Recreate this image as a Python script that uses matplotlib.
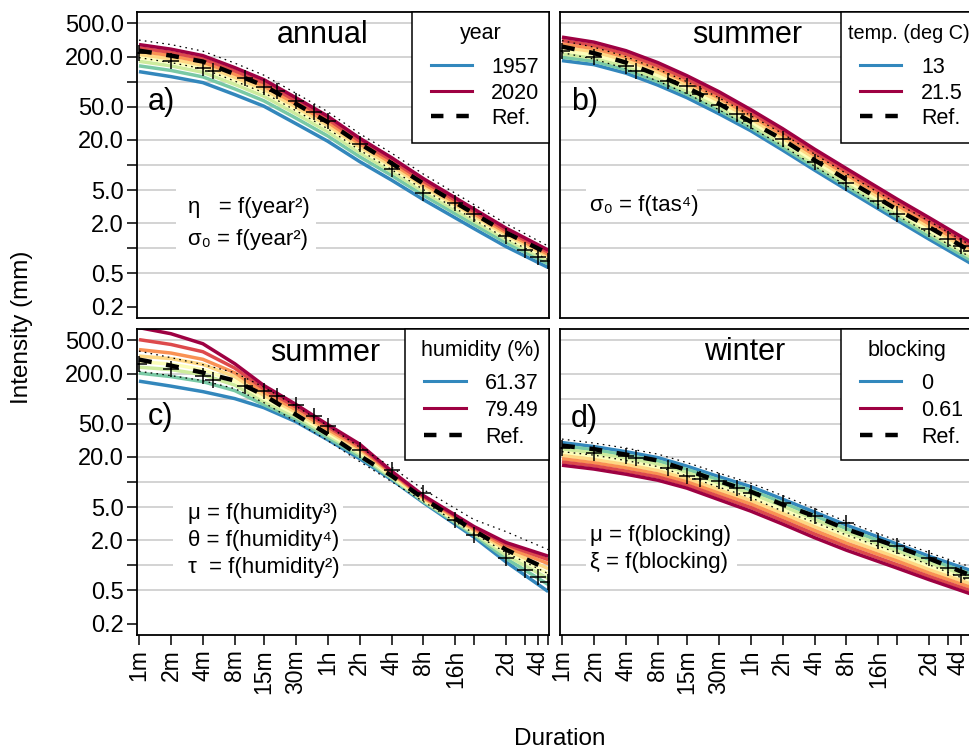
import matplotlib
matplotlib.use("Agg")
import matplotlib.pyplot as plt
from matplotlib.patches import Rectangle
from matplotlib.lines import Line2D
from matplotlib.ticker import NullLocator
from matplotlib.transforms import ScaledTranslation

plt.rcParams['font.family'] = ['Liberation Sans', 'DejaVu Sans']

# ---------------- data ----------------
durations = [1, 2, 4, 8, 15, 30, 60, 120, 240, 480, 1440, 2880, 7200]  # minutes
obs_durations = [1, 2, 4, 5, 10, 15, 20, 30, 45, 60, 120, 240, 480, 960,
                 1440, 2880, 4320, 5760, 7200]

tick_minutes = [1, 2, 4, 8, 15, 30, 60, 120, 240, 480, 960, 1440, 2880, 4320, 5760, 7200]
tick_labels = ['1m', '2m', '4m', '8m', '15m', '30m', '1h', '2h', '4h', '8h', '16h',
               '', '2d', '', '4d', '']
ytick_values = [500, 200, 100, 50, 20, 10, 5, 2, 1, 0.5, 0.2]
ytick_labels = ['500.0', '200.0', '', '50.0', '20.0', '', '5.0', '2.0', '', '0.5', '0.2']
grid_values = [500, 200, 100, 50, 20, 10, 5, 2, 1, 0.5]

# panel a (annual, year): curves from 2020 (dark red) to 1957 (blue)
a_curves = [
    [278, 245, 205, 147, 105.7, 64.3, 38.6, 21.0, 12.26, 6.86, 2.96, 1.75, 0.954],
    [254, 224, 187.5, 134.4, 96.8, 59.0, 35.5, 19.4, 11.38, 6.40, 2.77, 1.645, 0.901],
    [232.5, 205, 171.5, 123, 88.5, 54.2, 32.7, 18.0, 10.56, 5.97, 2.60, 1.549, 0.849],
    [212.7, 187.4, 156.8, 112.5, 81.0, 49.8, 30.1, 16.6, 9.81, 5.57, 2.44, 1.456, 0.801],
    [194.5, 171.4, 143.4, 102.8, 74.1, 45.7, 27.7, 15.4, 9.10, 5.19, 2.29, 1.369, 0.757],
    [175.3, 154.5, 129.3, 92.7, 66.8, 41.3, 25.1, 14.1, 8.34, 4.79, 2.12, 1.276, 0.707],
    [154.5, 136.1, 113.9, 81.7, 58.9, 36.6, 22.3, 12.6, 7.50, 4.34, 1.93, 1.169, 0.652],
    [131.8, 114.8, 97.3, 69.8, 50.8, 31.4, 19.3, 11.0, 6.59, 3.84, 1.725, 1.051, 0.589],
]
a_ref = [235, 205, 174, 123, 89.6, 54.5, 32.7, 18.1, 10.5, 5.98, 2.61, 1.545, 0.866]
a_upper = [314.5, 278, 232, 166.6, 119.6, 72.8, 43.6, 23.8, 13.9, 7.77, 3.35, 1.98, 1.065]
a_lower = [194, 169, 143, 101.4, 73.8, 44.9, 27.3, 15.1, 8.81, 5.07, 2.22, 1.31, 0.733]
a_obs = [219.6, 176, 145, 135, 110, 87.1, 78.0, 59.2, 43.6, 33.6, 18.1, 9.06, 4.60,
         3.47, 2.61, 1.42, 0.967, 0.797, 0.713]

# panel b (summer, temperature): 21.5 (dark red) to 13 (blue)
b_curves = [
    [341.6, 297.5, 235, 169, 118, 75.9, 46.2, 27.3, 15.5, 9.06, 3.90, 2.34, 1.174],
    [311.4, 272.5, 215.2, 154.8, 108.2, 69.6, 42.5, 25.1, 14.27, 8.34, 3.59, 2.15, 1.081],
    [283.9, 249.5, 197.1, 141.7, 99.3, 64.0, 39.2, 23.0, 13.14, 7.68, 3.31, 1.97, 0.995],
    [258.8, 228.5, 180.5, 129.8, 91.2, 58.7, 36.0, 21.1, 12.09, 7.07, 3.04, 1.81, 0.916],
    [235.9, 209.3, 165.3, 118.9, 83.7, 53.9, 33.2, 19.4, 11.13, 6.51, 2.80, 1.66, 0.843],
    [215.0, 191.6, 151.3, 108.8, 76.8, 49.5, 30.5, 17.8, 10.25, 5.99, 2.58, 1.53, 0.776],
    [196.1, 175.5, 138.7, 99.7, 70.6, 45.4, 28.1, 16.4, 9.43, 5.51, 2.37, 1.40, 0.715],
    [178.6, 159.9, 126.4, 90.8, 64.3, 41.3, 25.8, 15.1, 8.69, 5.07, 2.18, 1.29, 0.656],
]
b_ref = [262.8, 219.6, 169, 119.6, 84.7, 54.5, 33.1, 20.2, 11.45, 6.68, 2.92, 1.80, 0.916]
b_upper = [310, 259, 199.4, 141, 100, 64.3, 39.1, 23.8, 13.5, 7.88, 3.44, 2.13, 1.08]
b_lower = [222.7, 186.2, 143, 101.4, 71.8, 46.2, 28.1, 17.1, 9.70, 5.66, 2.47, 1.524, 0.775]
b_obs = [235, 195.6, 155.5, 135, 102.8, 89.6, 71.2, 53.0, 41.0, 34.1, 20.6, 10.8, 6.03,
         3.74, 2.59, 1.71, 1.30, 1.08, 0.941]

# panel c (summer, humidity): 79.49 (dark red) to 61.37 (blue)
c_curves = [
    [710, 600, 455, 262, 144, 85.5, 48.8, 28.5, 13.5, 6.87, 2.92, 1.88, 1.29],
    [509.7, 446, 365, 232, 131, 79.5, 46.2, 26.9, 13.1, 6.68, 2.84, 1.78, 1.17],
    [386.8, 352, 296, 204, 119.5, 74.0, 43.1, 25.5, 12.8, 6.50, 2.72, 1.656, 1.05],
    [323.2, 301.6, 257, 183, 109.5, 69.0, 40.8, 24.1, 12.26, 6.32, 2.61, 1.545, 0.914],
    [277.6, 259.2, 222.7, 162.0, 100.5, 65.2, 38.6, 22.8, 11.9, 6.15, 2.50, 1.44, 0.796],
    [238.5, 222.7, 194.0, 145.1, 92.05, 60.8, 36.5, 21.6, 11.4, 5.98, 2.41, 1.33, 0.694],
    [202.2, 183.6, 159.8, 124.7, 84.7, 56.8, 34.1, 20.2, 11.1, 5.82, 2.31, 1.21, 0.589],
    [162.0, 141.1, 121.3, 100, 78.0, 53.0, 32.2, 19.1, 10.7, 5.66, 2.18, 1.10, 0.485],
]
c_ref = [293.4, 248.6, 205, 164.3, 110.2, 64.3, 37.5, 20.7, 11.9, 6.32, 2.61, 1.545, 0.890]
c_upper = [371.1, 310.0, 255.6, 205, 137.3, 81.3, 47.4, 26.2, 15.1, 8.11, 3.54, 2.54, 1.545]
c_lower = [212.5, 188.7, 164.3, 131.7, 89.6, 53.0, 31.4, 17.6, 10.1, 5.82, 2.41, 1.42, 0.796]
c_obs = [262.8, 228.9, 186.1, 169.0, 140.4, 122.3, 107.2, 84.7, 61.3, 46.5, 24.5, 14.1,
         7.46, 3.54, 2.34, 1.24, 0.891, 0.733, 0.639]

# panel d (winter, blocking): 0.61 (dark red) to 0 (blue)
d_curves = [
    [15.9, 14.3, 12.4, 10.5, 8.45, 6.15, 4.48, 3.13, 2.15, 1.52, 0.928, 0.675, 0.453],
    [17.4, 15.6, 13.5, 11.5, 9.21, 6.73, 4.95, 3.45, 2.38, 1.68, 1.02, 0.738, 0.494],
    [19.0, 17.0, 14.8, 12.5, 10.05, 7.37, 5.45, 3.81, 2.63, 1.85, 1.13, 0.810, 0.543],
    [20.8, 18.6, 16.2, 13.7, 10.96, 8.07, 6.00, 4.20, 2.91, 2.05, 1.24, 0.889, 0.595],
    [22.7, 20.4, 17.7, 15.0, 11.9, 8.84, 6.60, 4.64, 3.22, 2.26, 1.36, 0.976, 0.654],
    [24.8, 22.3, 19.3, 16.4, 13.0, 9.68, 7.27, 5.12, 3.56, 2.49, 1.49, 1.07, 0.718],
    [27.2, 24.3, 21.1, 17.9, 14.2, 10.6, 8.00, 5.65, 3.94, 2.75, 1.64, 1.175, 0.788],
    [29.7, 26.6, 23.1, 19.6, 15.5, 11.6, 8.81, 6.23, 4.36, 3.04, 1.80, 1.29, 0.865],
]
d_ref = [27.3, 24.8, 21.3, 18.1, 13.9, 10.25, 7.67, 5.36, 3.90, 2.72, 1.68, 1.21, 0.754]
d_upper = [32.7, 29.3, 25.5, 21.6, 17.1, 12.8, 9.70, 6.87, 4.80, 3.35, 1.98, 1.42, 0.954]
d_lower = [23.1, 21.0, 18.1, 15.3, 11.8, 8.69, 6.50, 4.48, 3.30, 2.31, 1.42, 1.02, 0.638]
d_obs = [25.6, 22.3, 20.3, 19.5, 14.8, 11.7, 10.9, 10.2, 8.50, 7.40, 5.61, 3.88, 3.23,
         1.95, 1.69, 1.23, 0.933, 0.773, 0.713]

# ---------------- layout ----------------
W, H = 969, 752
fig = plt.figure(figsize=(W / 100, H / 100), dpi=100)
fig.patch.set_facecolor('white')


def fx(x):
    return x / W


def fy(y):
    return 1 - y / H


cmap = matplotlib.colormaps['Spectral']
curve_colors = [cmap(0.9 * k / 7) for k in range(8)]
LOW_COLOR = '#3288BD'
HIGH_COLOR = '#9E0142'

PW, PH = 412, 306
xlim = (0.958, 7320)
ylim = (0.1463, 683.5)

panels = [
    dict(box=(137, 12), curves=a_curves, ref=a_ref, upper=a_upper, lower=a_lower, obs=a_obs,
         title='annual', title_xy=(323, 43.3), letter='a)', letter_xy=(148, 110),
         leg_box=(412, 12, 549, 143), leg_title='year', leg_title_xy=(481, 39),
         leg_title_ha='center', leg_title_size=15.5,
         leg_labels=['1957', '2020', 'Ref.'], handle_x=(431, 472), label_x=491,
         rows_y=[72.7, 98.7, 124.3],
         notes=[('η   = f(year²)', 188, 213.5), ('σ₀ = f(year²)', 188, 244.5)],
         note_box=(176, 181, 316, 262), left=True, bottom=False, right=False),
    dict(box=(560, 12), curves=b_curves, ref=b_ref, upper=b_upper, lower=b_lower, obs=b_obs,
         title='summer', title_xy=(747, 43.3), letter='b)', letter_xy=(571, 110),
         leg_box=(841, 12, 1000, 143), leg_title='temp. (deg C)', leg_title_xy=(848, 39),
         leg_title_ha='left', leg_title_size=14.3,
         leg_labels=['13', '21.5', 'Ref.'], handle_x=(860, 901), label_x=921,
         rows_y=[72.7, 98.7, 124.3],
         notes=[('σ₀ = f(tas⁴)', 590, 210.7)],
         note_box=(586, 181, 697, 221), left=False, bottom=False, right=True),
    dict(box=(137, 329), curves=c_curves, ref=c_ref, upper=c_upper, lower=c_lower, obs=c_obs,
         title='summer', title_xy=(325, 360.7), letter='c)', letter_xy=(148, 425),
         leg_box=(405, 329, 549, 460), leg_title='humidity (%)', leg_title_xy=(480.5, 356),
         leg_title_ha='center', leg_title_size=15.5,
         leg_labels=['61.37', '79.49', 'Ref.'], handle_x=(424, 466), label_x=485,
         rows_y=[389.3, 416, 442.7],
         notes=[('μ = f(humidity³)', 188, 519.3), ('θ = f(humidity⁴)', 188, 546),
                ('τ  = f(humidity²)', 188, 573.3)],
         note_box=(173, 490, 343, 581), left=True, bottom=True, right=False),
    dict(box=(560, 329), curves=d_curves, ref=d_ref, upper=d_upper, lower=d_lower, obs=d_obs,
         title='winter', title_xy=(745, 360), letter='d)', letter_xy=(571, 426.7),
         leg_box=(841, 329, 1000, 460), leg_title='blocking', leg_title_xy=(906.7, 356),
         leg_title_ha='center', leg_title_size=15.5,
         leg_labels=['0', '0.61', 'Ref.'], handle_x=(860, 901), label_x=921,
         rows_y=[389.3, 416, 442.7],
         notes=[('μ = f(blocking)', 590, 540.7), ('ξ = f(blocking)', 590, 567.7)],
         note_box=(586, 514, 737, 580), left=False, bottom=True, right=True),
]

for p in panels:
    x0, y0 = p['box']
    ax = fig.add_axes([fx(x0), fy(y0 + PH), PW / W, PH / H])
    ax.set_xscale('log')
    ax.set_yscale('log')
    ax.set_xlim(*xlim)
    ax.set_ylim(*ylim)
    for g in grid_values:
        ax.axhline(g, color='#C8C8C8', lw=1.1, zorder=0.5)

    # white box behind the parameter notes
    bx0, by0, bx1, by1 = p['note_box']
    ax.add_patch(Rectangle((fx(bx0), fy(by1)), (bx1 - bx0) / W, (by1 - by0) / H,
                           transform=fig.transFigure, facecolor='white', edgecolor='none',
                           zorder=1))
    for txt, tx, ty in p['notes']:
        ax.text(fx(tx), fy(ty), txt, transform=fig.transFigure, ha='left', va='baseline',
                fontsize=16, zorder=1.2)

    for k in range(7, -1, -1):
        ax.plot(durations, p['curves'][k], color=curve_colors[k], lw=2.5, zorder=2,
                solid_capstyle='butt', solid_joinstyle='round')
    ax.plot(durations, p['ref'], color='black', lw=3.2, dashes=(2.9, 3.3), zorder=3,
            dash_capstyle='butt')
    for band in (p['upper'], p['lower']):
        ax.plot(durations, band, color='black', lw=0.9, dashes=(1.3, 3.4), zorder=3)
    ax.plot(obs_durations, p['obs'], ls='none', marker='+', ms=12, mew=1.1,
            color='black', zorder=4)

    if p['bottom']:
        ax.set_xticks(tick_minutes)
        ax.set_xticklabels(tick_labels, rotation=90)
    else:
        ax.set_xticks([])
    if p['left']:
        ax.set_yticks(ytick_values)
        ax.set_yticklabels(ytick_labels)
    else:
        ax.set_yticks([])
    ax.yaxis.set_minor_locator(NullLocator())
    ax.xaxis.set_minor_locator(NullLocator())
    ax.tick_params(axis='y', direction='out', length=7, width=1.1, labelsize=17,
                   pad=2.5, colors='black')
    ax.tick_params(axis='x', direction='out', length=7.5, width=1.1, labelsize=16.5,
                   pad=3, colors='black')
    if p['bottom'] and p['right']:
        # nudge the last visible label at the image edge slightly inward
        for lab in ax.get_xticklabels():
            if lab.get_text() == '4d':
                lab.set_transform(lab.get_transform() +
                                  ScaledTranslation(-3 / 100, 0, fig.dpi_scale_trans))
    for s in ax.spines.values():
        s.set_linewidth(1.3)

    # title and panel letter
    tx, ty = p['title_xy']
    fig.text(fx(tx), fy(ty), p['title'], ha='center', va='baseline', fontsize=22)
    lx, ly = p['letter_xy']
    fig.text(fx(lx), fy(ly), p['letter'], ha='left', va='baseline', fontsize=22)

    # legend
    lx0, ly0, lx1, ly1 = p['leg_box']
    fig.add_artist(Rectangle((fx(lx0), fy(ly1)), (lx1 - lx0) / W, (ly1 - ly0) / H,
                             transform=fig.transFigure, facecolor='white',
                             edgecolor='black', lw=1.1, zorder=5))
    ttx, tty = p['leg_title_xy']
    fig.text(fx(ttx), fy(tty), p['leg_title'], ha=p['leg_title_ha'], va='baseline',
             fontsize=p['leg_title_size'], zorder=6)
    hx0, hx1 = p['handle_x']
    styles = [dict(color=LOW_COLOR, lw=2.2), dict(color=HIGH_COLOR, lw=2.2),
              dict(color='black', lw=3.2, dashes=(2.8, 2.9), dash_capstyle='butt')]
    for lab, yb, st in zip(p['leg_labels'], p['rows_y'], styles):
        fig.add_artist(Line2D([fx(hx0), fx(hx1)], [fy(yb - 8), fy(yb - 8)],
                              transform=fig.transFigure, zorder=6, **st))
        fig.text(fx(p['label_x']), fy(yb), lab, ha='left', va='baseline', fontsize=15.5,
                 zorder=6)

fig.text(fx(22), fy(327), 'Intensity (mm)', rotation=90, ha='center', va='center',
         fontsize=17.5)
fig.text(fx(560), fy(745), 'Duration', ha='center', va='baseline', fontsize=17.5)

fig.savefig('out.png', dpi=100)
